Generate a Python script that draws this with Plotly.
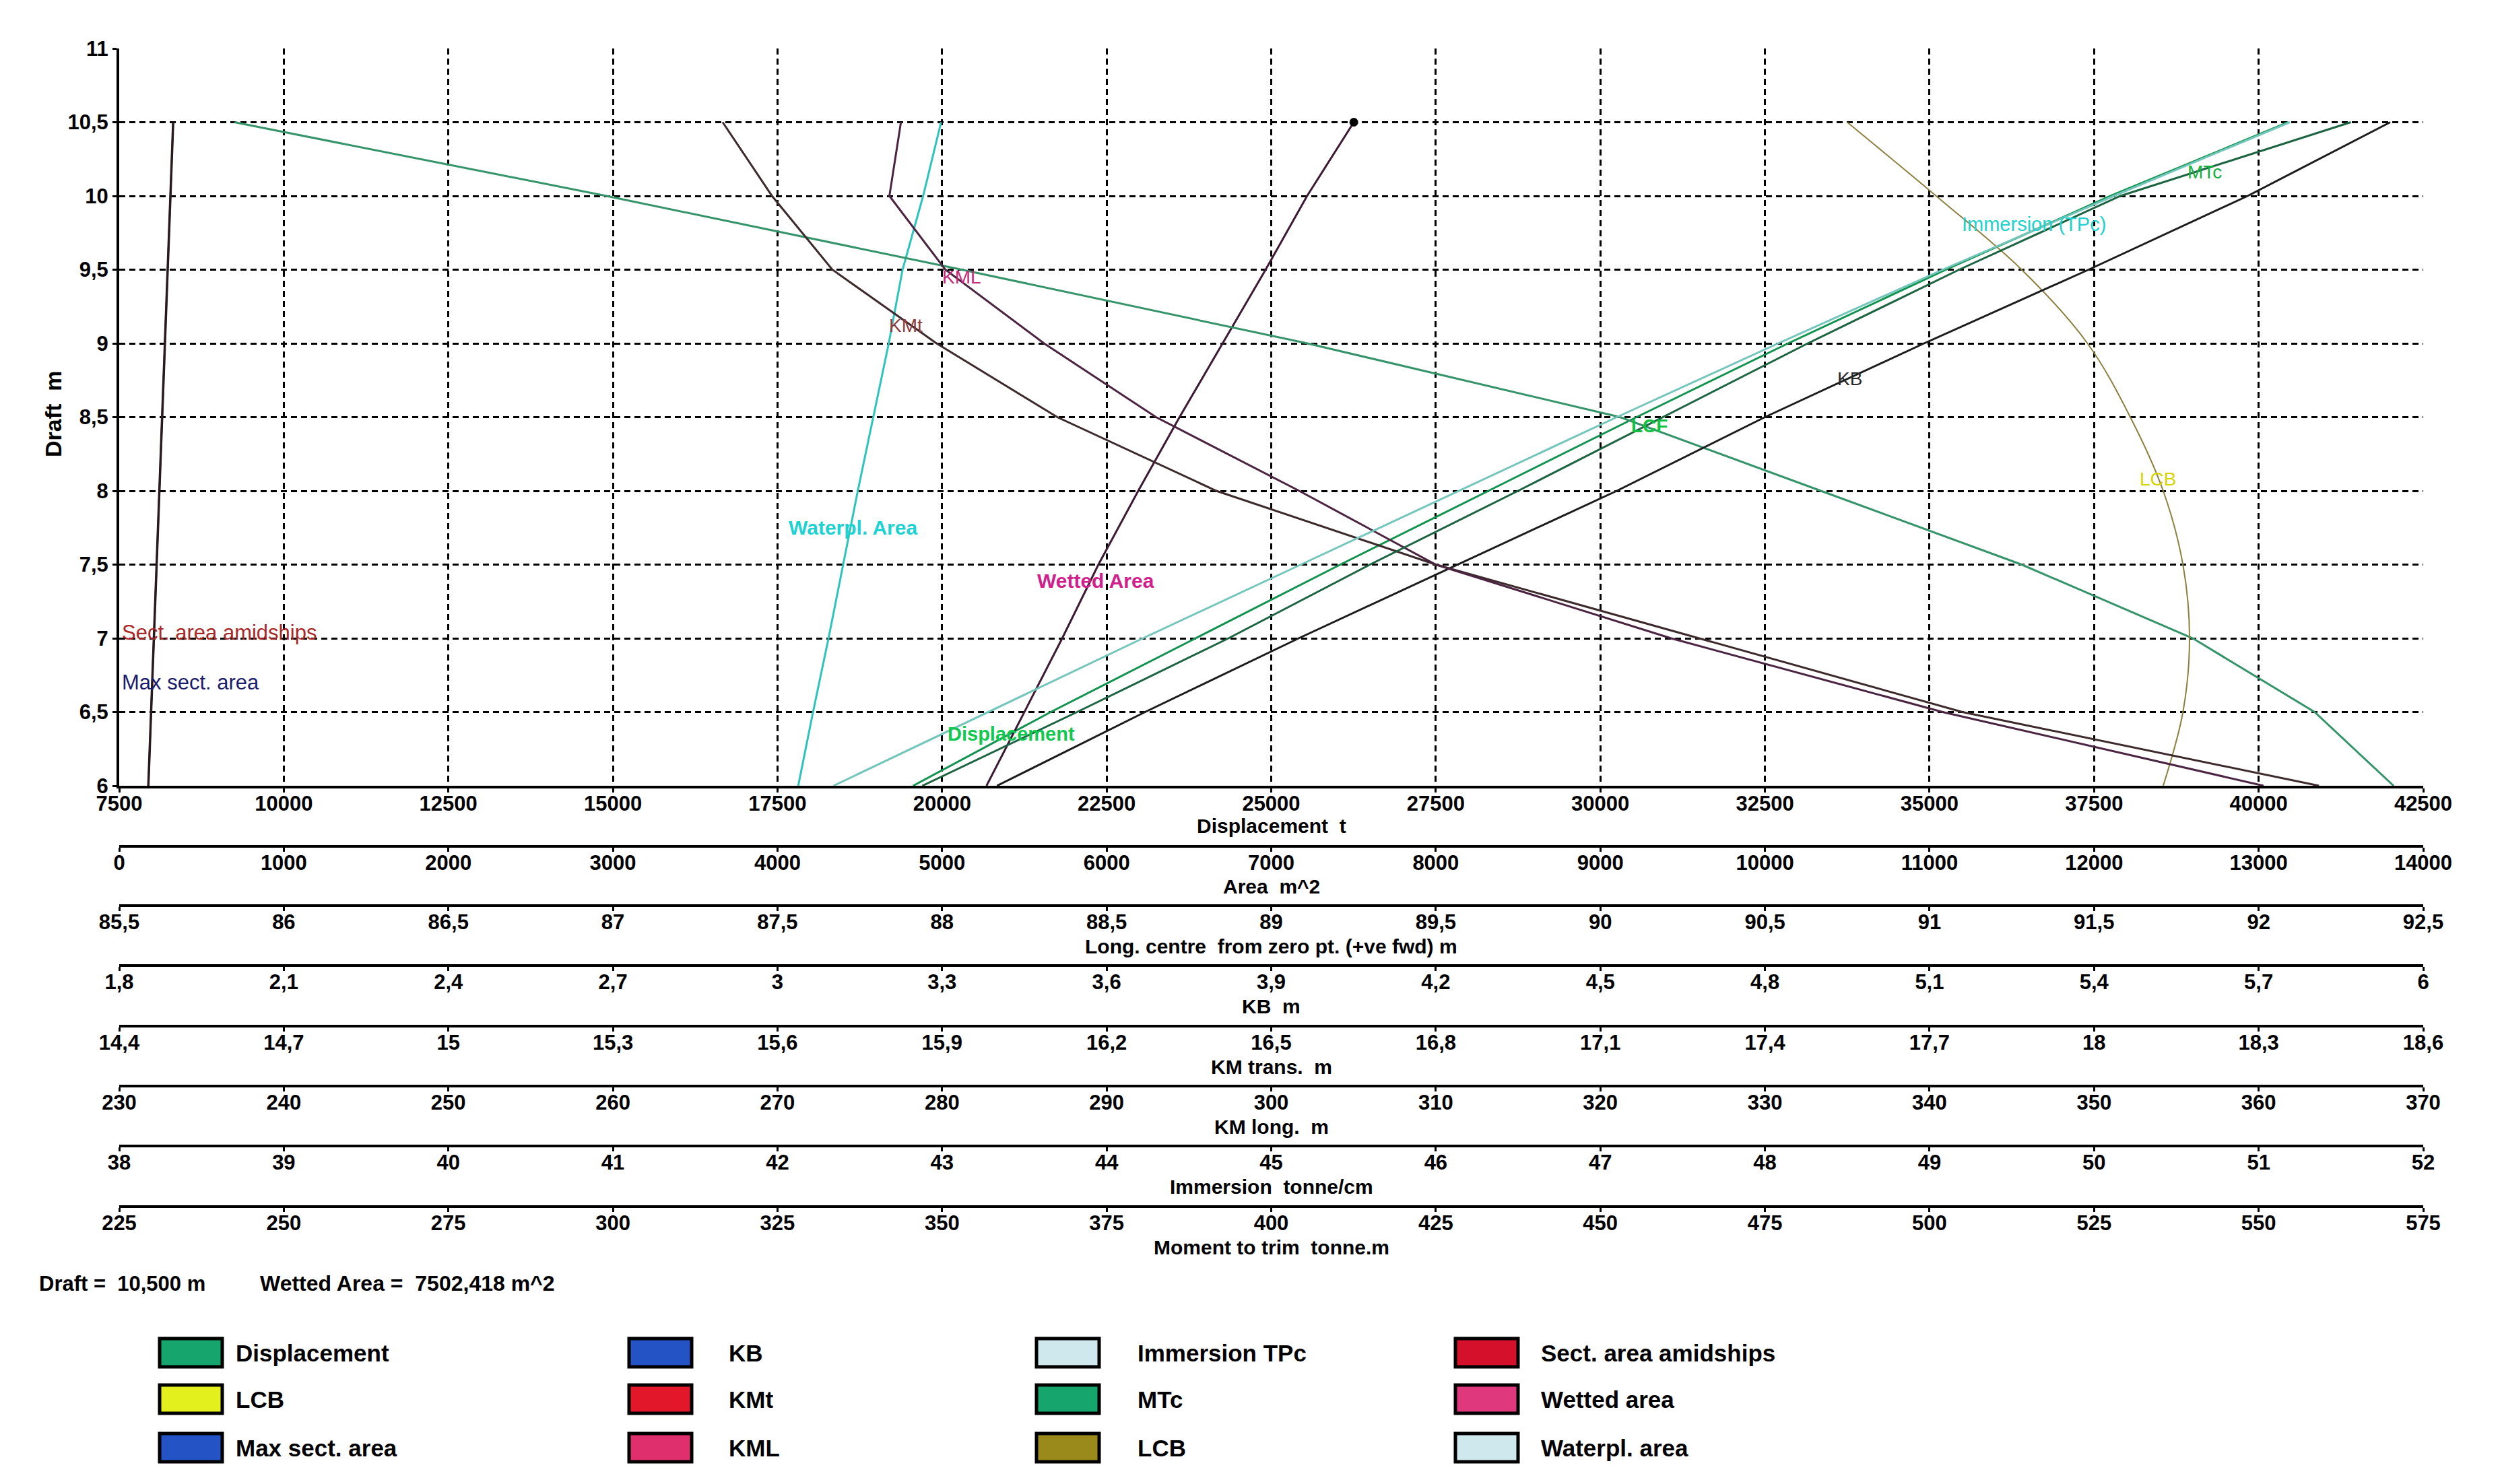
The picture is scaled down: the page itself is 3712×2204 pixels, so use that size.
import plotly.graph_objects as go

# hydrostatic curves, every curve is plotted against draft
DRAFT = [6.0, 6.5, 7.0, 7.5, 8.0, 8.5, 9.0, 9.5, 10.0, 10.5]

DISPLACEMENT = [19560, 21650, 23850, 26050, 28300, 30550, 32850, 35250, 37750, 40450]  # t
SECT_AREA = [176, 193, 210, 226, 243, 260, 277, 293, 310, 327]  # m^2
MAX_SECT_AREA = [178, 195, 212, 228, 245, 262, 279, 295, 312, 329]  # m^2
WATERPL_AREA = [4126, 4216, 4310, 4400, 4488, 4582, 4676, 4760, 4885, 4994]  # m^2
WETTED_AREA = [5270, 5500, 5730, 5950, 6192, 6443, 6705, 6966, 7218, 7502]  # m^2
LCF = [92.41, 92.17, 91.80, 91.28, 90.67, 90.06, 89.11, 88.06, 86.98, 85.85]  # m
LCB = [91.71, 91.77, 91.79, 91.77, 91.71, 91.61, 91.48, 91.28, 91.02, 90.75]  # m
KB = [3.40, 3.67, 3.95, 4.24, 4.53, 4.80, 5.09, 5.39, 5.68, 5.94]  # m
KMT = [18.41, 17.76, 17.28, 16.80, 16.40, 16.11, 15.89, 15.70, 15.59, 15.50]  # m
KML = [360.3, 340.8, 324.3, 310.0, 301.7, 293.0, 286.2, 280.2, 276.8, 277.5]  # m
IMMERSION_TPC = [42.34, 43.28, 44.22, 45.18, 46.14, 47.10, 48.08, 49.08, 50.12, 51.19]  # t/cm
MTC = [347.0, 370.5, 393.5, 415.0, 437.5, 459.5, 481.5, 504.5, 529.0, 564.0]  # t.m

# tick values of the stacked scales
DRAFT_TICKS = [6, 6.5, 7, 7.5, 8, 8.5, 9, 9.5, 10, 10.5, 11]
DISP_TICKS = [7500, 10000, 12500, 15000, 17500, 20000, 22500, 25000, 27500, 30000,
              32500, 35000, 37500, 40000, 42500]
AREA_TICKS = [0, 1000, 2000, 3000, 4000, 5000, 6000, 7000, 8000, 9000, 10000,
              11000, 12000, 13000, 14000]
LONG_TICKS = [85.5, 86, 86.5, 87, 87.5, 88, 88.5, 89, 89.5, 90, 90.5, 91, 91.5, 92, 92.5]
KB_TICKS = [1.8, 2.1, 2.4, 2.7, 3, 3.3, 3.6, 3.9, 4.2, 4.5, 4.8, 5.1, 5.4, 5.7, 6]
KMT_TICKS = [14.4, 14.7, 15, 15.3, 15.6, 15.9, 16.2, 16.5, 16.8, 17.1, 17.4, 17.7,
             18, 18.3, 18.6]
KML_TICKS = [230, 240, 250, 260, 270, 280, 290, 300, 310, 320, 330, 340, 350, 360, 370]
TPC_TICKS = [38, 39, 40, 41, 42, 43, 44, 45, 46, 47, 48, 49, 50, 51, 52]
MTC_TICKS = [225, 250, 275, 300, 325, 350, 375, 400, 425, 450, 475, 500, 525, 550, 575]

LEGEND_NAMES = ["Displacement", "LCB", "Max sect. area",
                "KB", "KMt", "KML",
                "Immersion TPc", "MTc", "LCB",
                "Sect. area amidships", "Wetted area", "Waterpl. area"]
LEGEND_COLORS = ["#17a56e", "#e4ef1e", "#2353c4",
                 "#2353c4", "#e2172a", "#df2f6c",
                 "#cfe8ee", "#17a56e", "#9a8a1c",
                 "#d4102a", "#e0387c", "#cfe8ee"]

W, H = 3712, 2204
FONT = "Liberation Sans, Arial, sans-serif"


def px(x):
    return x / W


def py(y):
    return 1 - y / H


def fmt(v):
    return f"{v:g}".replace(".", ",")


PLOT_L, PLOT_R, PLOT_T, PLOT_B = 177, 3598, 72, 1167
X_DOMAIN = [px(PLOT_L), px(PLOT_R)]
X_MID = (X_DOMAIN[0] + X_DOMAIN[1]) / 2

# (axis, title, ticks, axis line y, title y) in screen pixels
SCALES = [
    ("x", "Displacement  t", DISP_TICKS, 1167, 1226),
    ("x2", "Area  m^2", AREA_TICKS, 1257, 1316),
    ("x3", "Long. centre  from zero pt. (+ve fwd) m", LONG_TICKS, 1345, 1405),
    ("x4", "KB  m", KB_TICKS, 1434, 1494),
    ("x5", "KM trans.  m", KMT_TICKS, 1524, 1584),
    ("x6", "KM long.  m", KML_TICKS, 1613, 1673),
    ("x7", "Immersion  tonne/cm", TPC_TICKS, 1702, 1762),
    ("x8", "Moment to trim  tonne.m", MTC_TICKS, 1792, 1852),
]

CURVES = [
    ("Max sect. area", MAX_SECT_AREA, "x2", "#1c1a2e", 3),
    ("Sect. area amidships", SECT_AREA, "x2", "#2a1a1c", 3),
    ("Waterpl. area", WATERPL_AREA, "x2", "#2cc4bc", 3),
    ("Wetted area", WETTED_AREA, "x2", "#3c1a34", 3),
    ("LCF", LCF, "x3", "#35946a", 3),
    ("LCB", LCB, "x3", "#8c8040", 2),
    ("KB", KB, "x4", "#1c1c1c", 3),
    ("KMt", KMT, "x5", "#3c2a2c", 3),
    ("KML", KML, "x6", "#4a2440", 3),
    ("Immersion TPc", IMMERSION_TPC, "x7", "#74c6bc", 3),
    ("MTc", MTC, "x8", "#1c6442", 3),
    ("Displacement", DISPLACEMENT, "x", "#12934f", 3),
]

# (text, displacement-scale x, draft, colour, bold, size)
CURVE_LABELS = [
    ("Sect. area amidships", 7520, 7.04, "#a82828", False, 31),
    ("Max sect. area", 7520, 6.70, "#1c1c6a", False, 31),
    ("Waterpl. Area", 17650, 7.75, "#1ed2d2", True, 30),
    ("Wetted Area", 21420, 7.39, "#d0208c", True, 30),
    ("Displacement", 20060, 6.35, "#12c850", True, 29),
    ("KML", 19980, 9.45, "#c42a78", False, 28),
    ("KMt", 19170, 9.12, "#8c3c3c", False, 28),
    ("KB", 33580, 8.76, "#2a2a2a", False, 28),
    ("LCB", 38170, 8.08, "#d8d400", False, 28),
    ("LCF", 30450, 8.44, "#14c040", True, 28),
    ("Immersion (TPc)", 35470, 9.81, "#22d0cc", False, 29),
    ("MTc", 38900, 10.16, "#14b040", False, 28),
]

fig = go.Figure()

for name, values, axis, color, width in CURVES:
    fig.add_trace(go.Scatter(
        x=values, y=DRAFT, xaxis=axis, yaxis="y", mode="lines", name=name,
        line=dict(color=color, width=width, shape="spline" if name == "LCB" else "linear"),
        showlegend=False,
    ))

# current draft marker on the wetted area curve
fig.add_trace(go.Scatter(
    x=[WETTED_AREA[-1]], y=[DRAFT[-1]], xaxis="x2", yaxis="y", mode="markers",
    marker=dict(color="black", size=13), showlegend=False,
))

tickfont = dict(family=FONT, size=31, color="black", weight="bold")
grid = dict(showgrid=True, gridcolor="black", gridwidth=3, griddash="9px,6px")

layout = dict(
    width=W, height=H,
    margin=dict(l=0, r=0, t=0, b=0, autoexpand=False),
    paper_bgcolor="white", plot_bgcolor="white",
    showlegend=False, hovermode=False,
    font=dict(family=FONT, color="black"),
    yaxis=dict(
        domain=[py(PLOT_B), py(PLOT_T)], range=[6, 11], automargin=False,
        tickvals=DRAFT_TICKS, ticktext=[fmt(v) for v in DRAFT_TICKS],
        showline=True, linecolor="black", linewidth=4, ticks="outside",
        ticklen=6, tickwidth=3, tickcolor="black", tickfont=tickfont,
        zeroline=False, **grid,
    ),
)

for axis, title, ticks, line_y, title_y in SCALES:
    key = "xaxis" if axis == "x" else "xaxis" + axis[1:]
    ax = dict(
        range=[ticks[0], ticks[-1]], tickvals=ticks, ticktext=[fmt(v) for v in ticks],
        showline=True, linecolor="black", linewidth=4, ticks="outside", automargin=False,
        ticklen=6, tickwidth=3, tickcolor="black", tickfont=tickfont, zeroline=False,
        ticklabelstandoff=-10,
    )
    if axis == "x":
        ax.update(domain=X_DOMAIN, anchor="y", **grid)
    else:
        ax.update(overlaying="x", anchor="free", position=py(line_y), showgrid=False)
    layout[key] = ax

annotations = []
for axis, title, ticks, line_y, title_y in SCALES:
    annotations.append(dict(
        text=title, xref="paper", yref="paper", x=X_MID, y=py(title_y),
        showarrow=False, xanchor="center", yanchor="middle",
        font=dict(family=FONT, size=30, color="black", weight="bold"),
    ))

annotations.append(dict(
    text="Draft  m", xref="paper", yref="paper", x=px(79), y=py(615), textangle=-90,
    xanchor="center", yanchor="middle",
    showarrow=False, font=dict(family=FONT, size=34, color="black", weight="bold"),
))

for text, xv, yv, color, bold, size in CURVE_LABELS:
    annotations.append(dict(
        text=text, xref="x", yref="y", x=xv, y=yv, showarrow=False,
        xanchor="left", yanchor="middle",
        font=dict(family=FONT, size=size, color=color, weight="bold" if bold else "normal"),
    ))

annotations.append(dict(
    text="Draft =  10,500 m", xref="paper", yref="paper", x=px(56), y=py(1906),
    xanchor="left", yanchor="middle", showarrow=False,
    font=dict(family=FONT, size=31, color="black", weight="bold"),
))
annotations.append(dict(
    text="Wetted Area =  7502,418 m^2", xref="paper", yref="paper", x=px(384), y=py(1906),
    xanchor="left", yanchor="middle", showarrow=False,
    font=dict(family=FONT, size=32, color="black", weight="bold"),
))

# legend drawn as swatches, three rows per column
COL_SWATCH_X = [237, 934, 1539, 2161]
COL_TEXT_X = [348, 1080, 1687, 2286]
ROW_Y = [2009, 2078, 2150]
shapes = []
for i, (name, color) in enumerate(zip(LEGEND_NAMES, LEGEND_COLORS)):
    col, row = divmod(i, 3)
    x0 = COL_SWATCH_X[col]
    yc = ROW_Y[row]
    shapes.append(dict(
        type="rect", xref="paper", yref="paper",
        x0=px(x0), x1=px(x0 + 93), y0=py(yc + 21), y1=py(yc - 21),
        fillcolor=color, line=dict(color="black", width=5),
    ))
    annotations.append(dict(
        text=name, xref="paper", yref="paper", x=px(COL_TEXT_X[col]), y=py(yc),
        xanchor="left", yanchor="middle", showarrow=False,
        font=dict(family=FONT, size=35, color="black", weight="bold"),
    ))

layout["annotations"] = annotations
layout["shapes"] = shapes
fig.update_layout(**layout)

# drop the default page margin so the figure sits flush in the window
fig.write_html(
    "out.html",
    config={"displayModeBar": False},
    post_script="document.body.style.margin = '0';",
)
